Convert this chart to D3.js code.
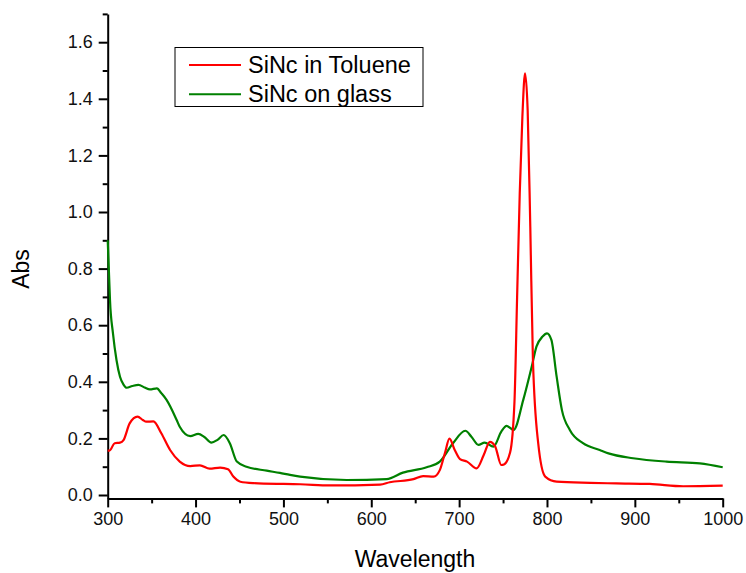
<!DOCTYPE html>
<html>
<head>
<meta charset="utf-8">
<script src="https://cdn.jsdelivr.net/npm/d3@7"></script>
<style>
  body { margin: 0; background: #fff; }
  svg { display: block; font-family: "Liberation Sans", Arial, sans-serif; }
</style>
</head>
<body>
<svg id="chart" width="746" height="573"></svg>
<script>
// SiNc in Toluene (red)
const tolueneWl  = [300, 302, 308, 314, 318, 325, 334, 340, 344, 352, 361, 371, 382, 394, 405, 416, 428, 437, 443, 451, 466, 500, 519, 553, 610, 621, 648, 659, 671, 678, 684, 689, 695, 701, 709, 720, 728, 735, 741, 748, 751, 758, 763, 766, 769, 772, 775, 778, 781, 784, 790, 798, 811, 849, 879, 917, 955, 1000];
const tolueneAbs = [0.157, 0.157, 0.183, 0.185, 0.194, 0.253, 0.277, 0.265, 0.259, 0.260, 0.218, 0.159, 0.118, 0.102, 0.105, 0.093, 0.097, 0.091, 0.065, 0.047, 0.042, 0.039, 0.038, 0.034, 0.037, 0.045, 0.056, 0.067, 0.065, 0.088, 0.150, 0.199, 0.159, 0.127, 0.118, 0.094, 0.141, 0.188, 0.172, 0.106, 0.108, 0.150, 0.330, 0.700, 1.067, 1.337, 1.49, 1.36, 0.948, 0.477, 0.183, 0.065, 0.047, 0.043, 0.041, 0.039, 0.031, 0.033];

// SiNc on glass (green)
const glassWl  = [300, 301.5, 302.6, 306, 310, 314, 318, 321.6, 328, 335, 342, 348, 356, 361, 367, 378.5, 382, 394, 403, 410, 418, 425, 432, 439, 447, 458, 481, 496, 507.5, 519, 572, 617.5, 636, 663, 678, 693, 707, 714, 722, 729, 739, 748, 754, 762, 773, 782.6, 788, 795, 800, 805, 811, 817, 826, 841, 860, 870, 898, 936, 974, 1000];
const glassAbs = [0.90, 0.78, 0.69, 0.571, 0.477, 0.418, 0.39, 0.379, 0.385, 0.389, 0.38, 0.373, 0.377, 0.36, 0.336, 0.265, 0.241, 0.208, 0.216, 0.205, 0.185, 0.195, 0.212, 0.183, 0.118, 0.1, 0.086, 0.078, 0.071, 0.065, 0.053, 0.056, 0.079, 0.098, 0.118, 0.183, 0.227, 0.206, 0.177, 0.185, 0.171, 0.224, 0.244, 0.23, 0.336, 0.453, 0.524, 0.56, 0.571, 0.548, 0.418, 0.30, 0.23, 0.183, 0.159, 0.147, 0.13, 0.118, 0.112, 0.098];

const xTicks = [300, 400, 500, 600, 700, 800, 900, 1000];
const yTicks = [0.0, 0.2, 0.4, 0.6, 0.8, 1.0, 1.2, 1.4, 1.6];
const seriesNames = ["SiNc in Toluene", "SiNc on glass"];
const seriesColors = ["#ff0000", "#008000"];

const svg = d3.select("#chart");

const x = d3.scaleLinear().domain([300, 1000]).range([107.7, 722.7]);
const y = d3.scaleLinear().domain([-0.012, 1.7]).range([498.4, 13.9]);

// minor ticks first, then major ticks with labels
const xMinor = d3.range(350, 1000, 100);
const yMinor = d3.range(0.1, 1.71, 0.2);

svg.append("g")
    .attr("transform", `translate(0,${y.range()[0]})`)
    .call(d3.axisBottom(x).tickValues(xMinor).tickSize(5).tickFormat(""))
    .call(g => g.select(".domain").remove())
    .call(g => g.selectAll("line").attr("stroke-width", 2));

svg.append("g")
    .attr("transform", `translate(${x.range()[0]},0)`)
    .call(d3.axisLeft(y).tickValues(yMinor).tickSize(5).tickFormat(""))
    .call(g => g.select(".domain").remove())
    .call(g => g.selectAll("line").attr("stroke-width", 2));

const xAxis = svg.append("g")
    .attr("transform", `translate(0,${y.range()[0]})`)
    .call(d3.axisBottom(x).tickValues(xTicks).tickSize(9).tickSizeOuter(0).tickPadding(5).tickFormat(d3.format("d")));

const yAxis = svg.append("g")
    .attr("transform", `translate(${x.range()[0]},0)`)
    .call(d3.axisLeft(y).tickValues(yTicks).tickSize(9).tickSizeOuter(0).tickPadding(6).tickFormat(d3.format(".1f")));

[xAxis, yAxis].forEach(a => {
    a.select(".domain").attr("stroke-width", 2).attr("stroke", "#000");
    a.selectAll(".tick line").attr("stroke-width", 2);
    a.selectAll(".tick text")
        .attr("font-size", "18px")
        .attr("font-family", "Liberation Sans, Arial, sans-serif")
        .attr("fill", "#111");
});

// axis titles
svg.append("text")
    .attr("x", 415)
    .attr("y", 567)
    .attr("text-anchor", "middle")
    .attr("font-size", "23px")
    .text("Wavelength");

svg.append("text")
    .attr("transform", "translate(29,269) rotate(-90)")
    .attr("text-anchor", "middle")
    .attr("font-size", "23px")
    .text("Abs");

// curves
const line = d3.line()
    .x(d => x(d[0]))
    .y(d => y(d[1]))
    .curve(d3.curveMonotoneX);

const series = [
    d3.zip(tolueneWl, tolueneAbs),
    d3.zip(glassWl, glassAbs)
];

// green first so the red peak sits on top
svg.append("path")
    .datum(series[1])
    .attr("d", line)
    .attr("fill", "none")
    .attr("stroke", seriesColors[1])
    .attr("stroke-width", 2.2);

svg.append("path")
    .datum(series[0])
    .attr("d", line)
    .attr("fill", "none")
    .attr("stroke", seriesColors[0])
    .attr("stroke-width", 2.2);

// legend
const legend = svg.append("g");
legend.append("rect")
    .attr("x", 175)
    .attr("y", 47.5)
    .attr("width", 248)
    .attr("height", 59)
    .attr("fill", "#fff")
    .attr("stroke", "#000")
    .attr("stroke-width", 1);

seriesNames.forEach((name, i) => {
    const ly = 65 + i * 29.3;
    legend.append("line")
        .attr("x1", 189)
        .attr("x2", 241)
        .attr("y1", ly)
        .attr("y2", ly)
        .attr("stroke", seriesColors[i])
        .attr("stroke-width", 2);
    legend.append("text")
        .attr("x", 248)
        .attr("y", ly + 8)
        .attr("font-size", "23.5px")
        .text(name);
});
</script>
</body>
</html>
